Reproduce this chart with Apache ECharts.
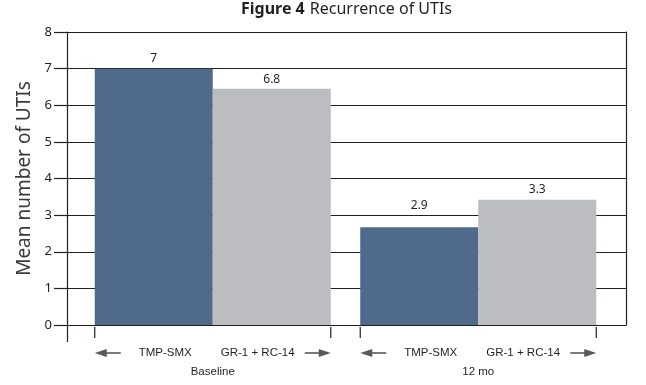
<!DOCTYPE html>
<html><head><meta charset="utf-8">
<script src="https://cdn.jsdelivr.net/npm/echarts@6/dist/echarts.min.js"></script>
<style>html,body{margin:0;padding:0;background:#fff}#c{width:646px;height:385px}</style>
</head><body><div id="c"></div>
<script>
// ---- data ----
const groups = ['Baseline', '12 mo'];
const treatments = ['TMP-SMX', 'GR-1 + RC-14'];
const tmpSmx = [7.0, 2.67];          // bar heights
const grRc = [6.45, 3.42];
const tmpSmxLabels = ['7', '2.9'];   // printed value labels
const grRcLabels = ['6.8', '3.3'];
const yMin = 0, yMax = 8, yStep = 1;

// ---- styles ----
const INK = '#231f20';
const DARK = '#4f6a8a';
const LIGHT = '#bcbdc1';
const ARROW = '#58595b';
const GAP = 0.111;
const tmpLabelDist = [4, 16];
const grLabelDist = [3, 4];
const MAIN = "'Noto Sans', sans-serif";
const NARROW = "'Liberation Sans', Arial, sans-serif";

const chart = echarts.init(document.getElementById('c'), null, {renderer: 'canvas'});

const option = {
  animation: false,
  backgroundColor: '#fff',
  title: {
    left: 236, top: -5,
    text: '{b|Figure 4} {n|Recurrence of UTIs}',
    textStyle: {
      rich: {
        b: {fontFamily: MAIN, fontWeight: 'bold', fontSize: 16, color: INK},
        n: {fontFamily: MAIN, fontWeight: 'normal', fontSize: 16, color: INK}
      }
    }
  },
  grid: [
    {left: 67, right: 20, top: 32, bottom: 60},
    {left: 80, right: 35, top: 32, bottom: 60}
  ],
  xAxis: [
    {
      gridIndex: 0, type: 'value', min: 0, max: 1,
      axisLine: {show: true, onZero: false, lineStyle: {color: INK, width: 1.2}},
      axisTick: {show: true, customValues: [0], length: 17, lineStyle: {color: INK, width: 1.2}},
      axisLabel: {show: false}, splitLine: {show: false}
    },
    {
      gridIndex: 1, type: 'category', data: groups,
      axisLine: {show: false}, axisTick: {show: false},
      axisLabel: {margin: 41, fontFamily: NARROW, fontSize: 11.5, color: INK},
      splitLine: {show: false}
    }
  ],
  yAxis: [
    {
      gridIndex: 0, type: 'value', min: yMin, max: yMax, interval: yStep,
      name: 'Mean number of UTIs', nameLocation: 'middle', nameGap: 30,
      nameTextStyle: {fontFamily: MAIN, fontSize: 19, color: '#3a3a3a'},
      axisLine: {show: true, lineStyle: {color: INK, width: 1.2}},
      axisTick: {show: true, length: 13, lineStyle: {color: INK, width: 1.2}},
      axisLabel: {margin: 15, fontFamily: MAIN, fontSize: 13, color: INK},
      splitLine: {show: true, lineStyle: {color: INK, width: 1.2}}
    },
    {
      gridIndex: 0, type: 'value', min: yMin, max: yMax, interval: yStep, position: 'right',
      axisLine: {show: true, lineStyle: {color: INK, width: 1.2}},
      axisTick: {show: false}, axisLabel: {show: false}, splitLine: {show: false}
    },
    {
      gridIndex: 1, type: 'value', min: yMin, max: yMax, interval: yStep, show: false
    }
  ],
  series: [
    {
      type: 'bar', xAxisIndex: 1, yAxisIndex: 2, barGap: 0, barCategoryGap: (GAP * 100) + '%',
      itemStyle: {color: DARK},
      label: {show: true, position: 'top', fontFamily: MAIN, fontSize: 12, color: INK},
      data: tmpSmx.map((v, i) => ({value: v, label: {distance: tmpLabelDist[i], formatter: tmpSmxLabels[i]}}))
    },
    {
      type: 'bar', xAxisIndex: 1, yAxisIndex: 2,
      itemStyle: {color: LIGHT},
      label: {show: true, position: 'top', fontFamily: MAIN, fontSize: 12, color: INK},
      data: grRc.map((v, i) => ({value: v, label: {distance: grLabelDist[i], formatter: grRcLabels[i]}}))
    },
    {
      type: 'custom', xAxisIndex: 1, yAxisIndex: 2, clip: false, silent: true,
      encode: {x: 0},
      data: groups.map((g, i) => [i]),
      renderItem: function (params, api) {
        const idx = api.value(0);
        const p = api.coord([idx, 0]);
        const band = api.size([1, 0])[0];
        const half = band * (1 - GAP) / 2;
        const cx = p[0], y0 = p[1];
        const L = cx - half, R = cx + half;
        const ay = y0 + 28;
        return {
          type: 'group',
          children: [
            {type: 'line', shape: {x1: L, y1: y0 + 2, x2: L, y2: y0 + 13}, style: {stroke: INK, lineWidth: 1.2}},
            {type: 'line', shape: {x1: R, y1: y0 + 2, x2: R, y2: y0 + 13}, style: {stroke: INK, lineWidth: 1.2}},
            {type: 'line', shape: {x1: L + 8, y1: ay, x2: L + 26, y2: ay}, style: {stroke: ARROW, lineWidth: 1.6}},
            {type: 'polygon', shape: {points: [[L, ay], [L + 12, ay - 4], [L + 12, ay + 4]]}, style: {fill: ARROW}},
            {type: 'line', shape: {x1: R - 26, y1: ay, x2: R - 8, y2: ay}, style: {stroke: ARROW, lineWidth: 1.6}},
            {type: 'polygon', shape: {points: [[R, ay], [R - 12, ay - 4], [R - 12, ay + 4]]}, style: {fill: ARROW}},
            {type: 'text', style: {text: treatments[0], x: cx - 21, y: ay, align: 'right', verticalAlign: 'middle',
              font: '11.5px ' + NARROW, fill: INK}},
            {type: 'text', style: {text: treatments[1], x: cx + 8, y: ay, align: 'left', verticalAlign: 'middle',
              font: '11.5px ' + NARROW, fill: INK}}
          ]
        };
      }
    }
  ]
};
chart.setOption(option);
</script>
</body></html>
